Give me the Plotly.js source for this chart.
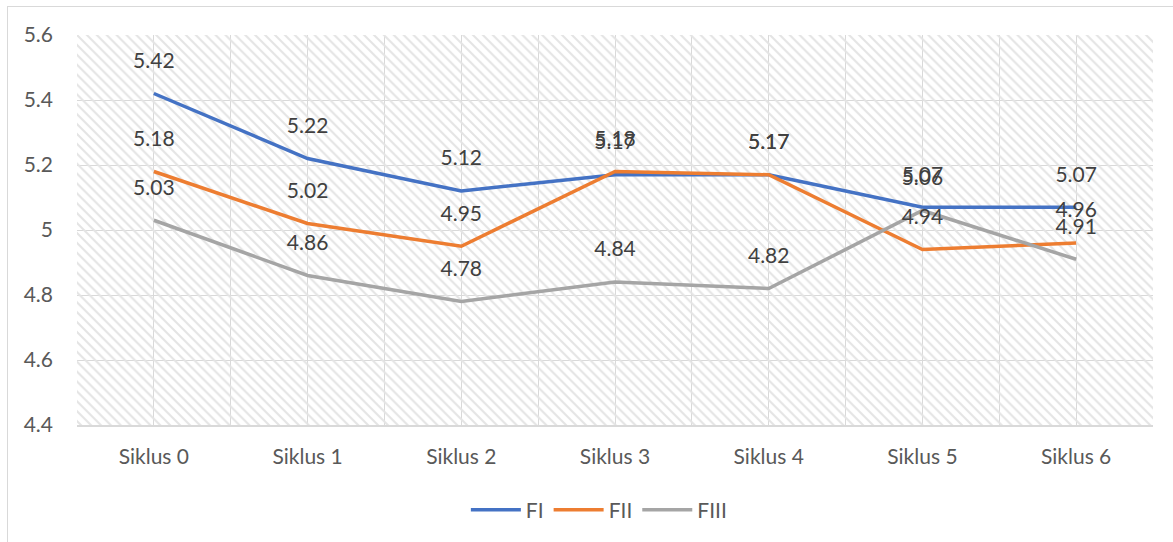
<!DOCTYPE html>
<html>
<head>
<meta charset="utf-8">
<script src="https://cdn.plot.ly/plotly-3.0.1.min.js"></script>
<style>
  html, body { margin:0; padding:0; background:#ffffff; }
  #wrap { position:relative; width:1173px; height:542px; overflow:hidden; }
  #frame { position:absolute; left:7px; top:6px; width:1300px; height:700px; border:1.5px solid #d9d9d9; box-sizing:border-box; }
  #chart { position:absolute; left:0; top:0; width:1173px; height:542px; }
</style>
</head>
<body>
<div id="wrap">
  <div id="frame"></div>
  <div id="chart"></div>
</div>
<script>
const categories = ["Siklus 0", "Siklus 1", "Siklus 2", "Siklus 3", "Siklus 4", "Siklus 5", "Siklus 6"];
const seriesNames = ["FI", "FII", "FIII"];
const FI   = [5.42, 5.22, 5.12, 5.17, 5.17, 5.07, 5.07];
const FII  = [5.18, 5.02, 4.95, 5.18, 5.17, 4.94, 4.96];
const FIII = [5.03, 4.86, 4.78, 4.84, 4.82, 5.06, 4.91];
const yTicks = [4.4, 4.6, 4.8, 5.0, 5.2, 5.4, 5.6];
const yTickText = ["4.4", "4.6", "4.8", "5", "5.2", "5.4", "5.6"];

const colors = ["#4472C4", "#ED7D31", "#A5A5A5"];
const FONT = "Lato, 'Open Sans', sans-serif";
const FS = 21;
const xIdx = categories.map((c, i) => i);
const xRange = [-0.5, categories.length - 0.5];
const yRange = [yTicks[0], yTicks[yTicks.length - 1]];

const traces = [];
// hatched background of the plot area
traces.push({
  x: [xRange[0], xRange[1], xRange[1], xRange[0], xRange[0]],
  y: [yRange[0], yRange[0], yRange[1], yRange[1], yRange[0]],
  mode: "lines", line: {width: 0, color: "rgba(0,0,0,0)"},
  fill: "toself", fillcolor: "rgba(0,0,0,0)",
  fillpattern: {shape: "\\", fgcolor: "#e4e4e4", bgcolor: "rgba(0,0,0,0)", size: 7, solidity: 0.3},
  hoverinfo: "skip", showlegend: false
});
const all = [FI, FII, FIII];
all.forEach((vals, k) => {
  traces.push({
    x: xIdx, y: vals, name: seriesNames[k], mode: "lines",
    line: {color: colors[k], width: 3.5},
    hoverinfo: "x+y"
  });
});
all.forEach((vals, k) => {
  traces.push({
    x: xIdx, y: vals, mode: "markers+text", showlegend: false,
    marker: {size: 31, color: "rgba(0,0,0,0)"},
    text: vals.map(v => v.toFixed(2)), textposition: "top center",
    textfont: {family: FONT, size: FS, color: "#404040"},
    hoverinfo: "skip"
  });
});

const layout = {
  width: 1173, height: 542,
  margin: {l: 77, r: 20, t: 35, b: 117},
  paper_bgcolor: "rgba(0,0,0,0)", plot_bgcolor: "#ffffff",
  font: {family: FONT, size: FS, color: "#595959"},
  showlegend: true,
  legend: {orientation: "h", x: 0.485, xanchor: "center", y: -0.218, yanchor: "middle",
           font: {family: FONT, size: FS, color: "#595959"}, itemwidth: 50, traceorder: "normal"},
  xaxis: {
    range: xRange, tickmode: "array", tickvals: xIdx, ticktext: categories,
    showgrid: true, gridcolor: "#d9d9d9", gridwidth: 1,
    minor: {tickmode: "linear", tick0: 0.5, dtick: 1, showgrid: true, gridcolor: "#d9d9d9", gridwidth: 1},
    zeroline: false, showline: true, linecolor: "#d9d9d9", linewidth: 1.5,
    ticks: "", ticklabelstandoff: 12, fixedrange: true
  },
  yaxis: {
    range: yRange, tickmode: "array", tickvals: yTicks, ticktext: yTickText,
    showgrid: true, gridcolor: "#d9d9d9", gridwidth: 1,
    zeroline: false, showline: false, ticks: "", ticklabelstandoff: 23, fixedrange: true
  }
};

Plotly.newPlot("chart", traces, layout, {displayModeBar: false, staticPlot: true});
</script>
</body>
</html>
